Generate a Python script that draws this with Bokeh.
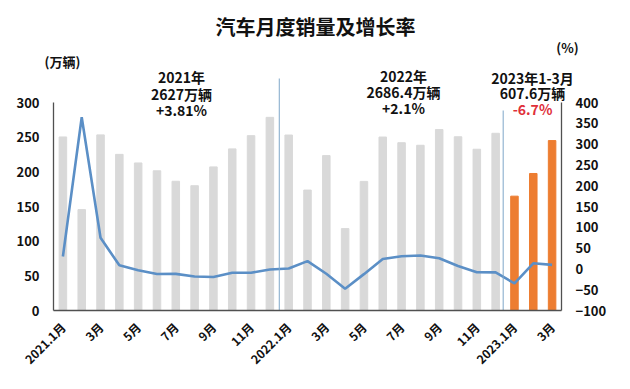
import math
from bokeh.plotting import figure
from bokeh.models import Range1d, LinearAxis, FixedTicker, Label, ColumnDataSource
from bokeh.embed import file_html
from bokeh.resources import INLINE

months = ["2021.1月","2月","3月","4月","5月","6月","7月","8月","9月","10月","11月","12月",
          "2022.1月","2月","3月","4月","5月","6月","7月","8月","9月","10月","11月","12月",
          "2023.1月","2月","3月"]
sales = [250.3,145.5,253.3,225.2,212.8,201.5,186.4,180.0,207.1,233.1,252.2,278.6,
         253.1,173.7,223.4,118.1,186.2,250.2,242.0,238.3,261.0,250.6,232.6,255.6,
         164.9,197.6,245.1]
growth = [29.9,364.6,74.9,8.6,-3.1,-12.4,-11.9,-18.1,-19.6,-9.4,-9.1,-1.6,
          0.9,18.7,-11.7,-47.6,-12.6,23.8,30.5,32.1,25.7,6.9,-7.9,-8.4,
          -35.0,13.5,9.7]
years = ["2021"] * 12 + ["2022"] * 12 + ["2023"] * 3
tick_idx = [0,2,4,6,8,10,12,14,16,18,20,22,24,26]
left_ticks = [0,50,100,150,200,250,300]
right_ticks = [-100,-50,0,50,100,150,200,250,300,350,400]

W, H = 630, 389
L, R = 53, 561          # pixel x of left / right axis
AXTOP, BOT = 102, 310   # pixel y of axis top / zero line
n = len(months)
step = (R - L) / float(n)
lscale = 300.0 / (BOT - AXTOP)
rscale = 500.0 / (BOT - AXTOP)

x0 = -L / step - 0.5
x1 = (W - L) / step - 0.5
yl0, yl1 = -(H - BOT) * lscale, BOT * lscale
yr0, yr1 = -100 - (H - BOT) * rscale, -100 + BOT * rscale

def yl(px):
    return (BOT - px) * lscale

x = list(range(n))
colors = ["#ed7d31" if y == "2023" else "#d9d9d9" for y in years]
src = ColumnDataSource(dict(x=x, sales=sales, growth=growth, color=colors))

p = figure(width=W, height=H, output_backend="svg", toolbar_location=None,
           x_range=Range1d(x0, x1), y_range=Range1d(yl0, yl1),
           min_border=0, min_border_left=0, min_border_right=0,
           min_border_top=0, min_border_bottom=0,
           background_fill_color="white", border_fill_color="white",
           outline_line_color=None, x_axis_location=None, y_axis_location=None)
p.extra_y_ranges = {"pct": Range1d(yr0, yr1)}
p.xgrid.visible = False
p.ygrid.visible = False

p.vbar(x="x", top="sales", width=0.4, color="color", source=src)
p.line(x="x", y="growth", y_range_name="pct", line_color="#5b8fc6", line_width=2.6, source=src)

for vx, top_px in [(11.5, 78), (23.4, 110)]:
    p.segment(x0=[vx], y0=[0], x1=[vx], y1=[yl(top_px)], line_color="#7fa7c9", line_width=1)

def style_axis(a, size="13px"):
    a.major_tick_line_color = None
    a.minor_tick_line_color = None
    a.axis_line_color = "#505050"
    a.axis_line_width = 1.3
    a.major_label_text_font = "Noto Sans CJK SC"
    a.major_label_text_font_style = "bold"
    a.major_label_text_font_size = size
    a.major_label_text_color = "#111111"

lax = LinearAxis(bounds=(0, 300), ticker=FixedTicker(ticks=left_ticks), fixed_location=-0.5)
style_axis(lax)
lax.major_label_standoff = 8
p.add_layout(lax, "left")

rax = LinearAxis(y_range_name="pct", bounds=(-100, 400), ticker=FixedTicker(ticks=right_ticks),
                 fixed_location=n - 0.5)
style_axis(rax)
rax.major_label_standoff = 8
p.add_layout(rax, "right")

xa = LinearAxis(bounds=(-0.5, n - 0.5), ticker=FixedTicker(ticks=tick_idx), fixed_location=0)
xa.major_label_overrides = {i: months[i] for i in tick_idx}
xa.major_label_orientation = math.pi / 4
xa.major_label_standoff = 8
style_axis(xa, "12px")
p.add_layout(xa, "below")

def lab(px_x, px_y, text, size="14px", color="#111111"):
    p.add_layout(Label(x=px_x, y=px_y, x_units="canvas", y_units="canvas", text=text,
                       text_align="center", text_baseline="middle",
                       text_font="Noto Sans CJK SC", text_font_style="bold",
                       text_font_size=size, text_color=color))

lab(315, 26, "汽车月度销量及增长率", "20px")
lab(62, 61, "(万辆)", "13px")
lab(567, 47, "(%)", "13px")
lab(181, 76.5, "2021年")
lab(181, 93, "2627万辆")
lab(181, 109.5, "+3.81%")
lab(403, 75, "2022年")
lab(403, 91, "2686.4万辆")
lab(403, 107, "+2.1%")
lab(532, 77, "2023年1-3月")
lab(532, 92.5, "607.6万辆")
lab(532, 108.5, "-6.7%", color="#e0303a")

open("out.html", "w").write(file_html(p, INLINE))
